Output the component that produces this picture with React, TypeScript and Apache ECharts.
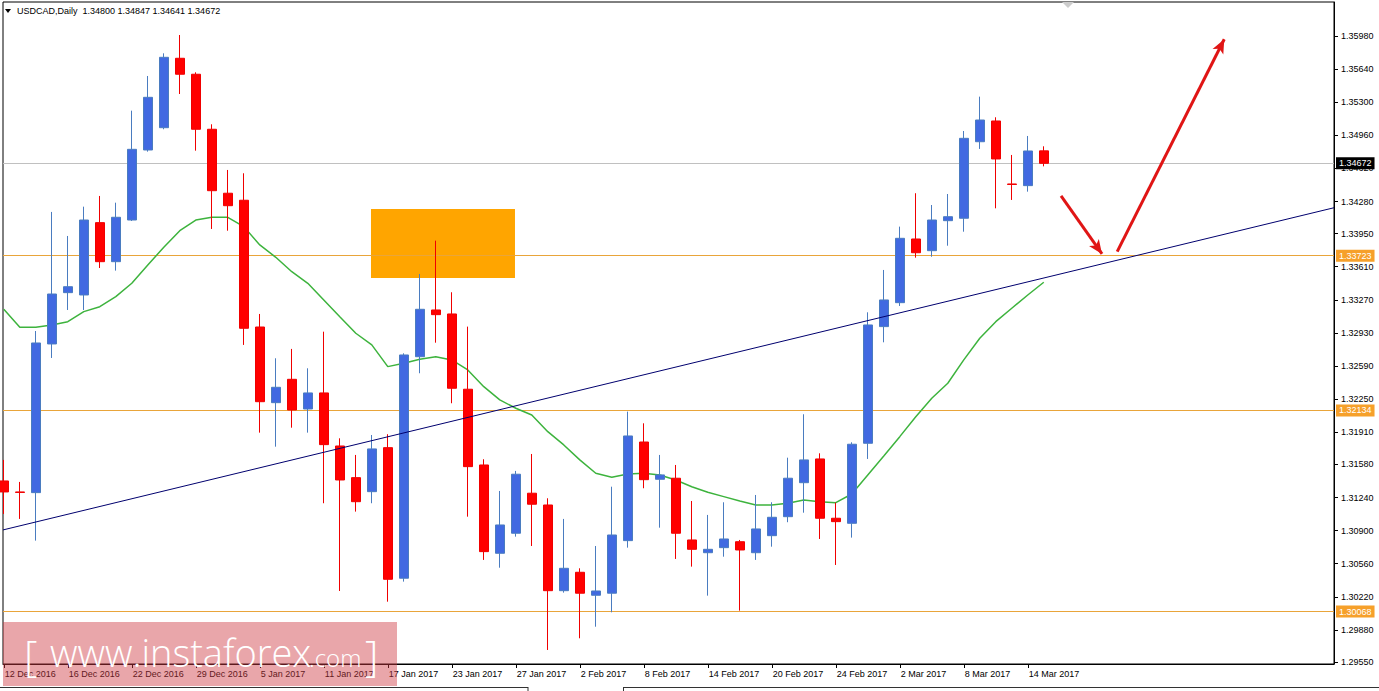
import React, { useEffect, useRef } from 'react';
import * as echarts from 'echarts';

const dates = ["12 Dec 2016","13 Dec 2016","14 Dec 2016","15 Dec 2016","16 Dec 2016","19 Dec 2016","20 Dec 2016","21 Dec 2016","22 Dec 2016","23 Dec 2016","27 Dec 2016","28 Dec 2016","29 Dec 2016","30 Dec 2016","3 Jan 2017","4 Jan 2017","5 Jan 2017","6 Jan 2017","9 Jan 2017","10 Jan 2017","11 Jan 2017","12 Jan 2017","13 Jan 2017","16 Jan 2017","17 Jan 2017","18 Jan 2017","19 Jan 2017","20 Jan 2017","23 Jan 2017","24 Jan 2017","25 Jan 2017","26 Jan 2017","27 Jan 2017","30 Jan 2017","31 Jan 2017","1 Feb 2017","2 Feb 2017","3 Feb 2017","6 Feb 2017","7 Feb 2017","8 Feb 2017","9 Feb 2017","10 Feb 2017","13 Feb 2017","14 Feb 2017","15 Feb 2017","16 Feb 2017","17 Feb 2017","20 Feb 2017","21 Feb 2017","22 Feb 2017","23 Feb 2017","24 Feb 2017","27 Feb 2017","28 Feb 2017","1 Mar 2017","2 Mar 2017","3 Mar 2017","6 Mar 2017","7 Mar 2017","8 Mar 2017","9 Mar 2017","10 Mar 2017","13 Mar 2017","14 Mar 2017","15 Mar 2017"];

const openP = [1.31410,1.31297,1.31290,1.32817,1.33344,1.33320,1.34063,1.33662,1.34090,1.34809,1.35038,1.35751,1.35587,1.35022,1.34365,1.34293,1.32991,1.32214,1.32454,1.32149,1.32314,1.31769,1.31444,1.31300,1.31752,1.30411,1.32686,1.33166,1.33125,1.32352,1.31574,1.30667,1.30873,1.31284,1.31163,1.30283,1.30472,1.30236,1.30257,1.30797,1.31810,1.31427,1.31438,1.30804,1.30673,1.30725,1.30786,1.30673,1.30848,1.31043,1.31392,1.31636,1.31027,1.30975,1.31797,1.32995,1.33241,1.33895,1.33775,1.34083,1.34108,1.34894,1.35107,1.34460,1.34443,1.34800];
const closeP = [1.31297,1.31292,1.32827,1.33330,1.33405,1.34090,1.33662,1.34118,1.34816,1.35350,1.35761,1.35587,1.35022,1.34391,1.34237,1.32978,1.32224,1.32372,1.32139,1.32314,1.31783,1.31420,1.31197,1.31739,1.30400,1.32704,1.33173,1.33118,1.32362,1.31557,1.30684,1.30958,1.31479,1.31171,1.30283,1.30513,1.30257,1.30280,1.30855,1.31872,1.31423,1.31472,1.30873,1.30708,1.30708,1.30814,1.30701,1.30917,1.31037,1.31438,1.31626,1.31027,1.30992,1.31787,1.33012,1.33269,1.33902,1.33754,1.34090,1.34124,1.34929,1.35117,1.34717,1.34455,1.34799,1.34672];
const highP = [1.31626,1.31400,1.32950,1.34173,1.33926,1.34227,1.34337,1.34268,1.35213,1.35569,1.35802,1.35990,1.35607,1.35073,1.34604,1.34570,1.33125,1.32670,1.32766,1.32567,1.32943,1.31848,1.31677,1.31882,1.31890,1.32721,1.33536,1.33878,1.33348,1.32995,1.31633,1.31307,1.31513,1.31687,1.31232,1.31020,1.30513,1.30742,1.31351,1.32122,1.32002,1.31677,1.31574,1.31204,1.31061,1.31191,1.30804,1.31266,1.31191,1.31649,1.32095,1.31694,1.31187,1.31807,1.33142,1.33577,1.34022,1.34365,1.34244,1.34357,1.35004,1.35357,1.35145,1.34758,1.34953,1.34847];
const lowP = [1.31071,1.31020,1.30797,1.32673,1.33166,1.33166,1.33597,1.33570,1.34080,1.34792,1.35022,1.35384,1.34802,1.33998,1.33980,1.32807,1.31906,1.31762,1.31957,1.31906,1.31181,1.30280,1.31095,1.31181,1.30170,1.30376,1.32516,1.32830,1.32208,1.31043,1.30599,1.30519,1.30838,1.30742,1.29674,1.30263,1.29794,1.29913,1.30061,1.30725,1.31335,1.30930,1.30609,1.30530,1.30232,1.30632,1.30078,1.30599,1.30735,1.30986,1.31084,1.30814,1.30547,1.30828,1.31636,1.32834,1.33207,1.33703,1.33713,1.33826,1.33970,1.34820,1.34210,1.34296,1.34381,1.34641];
const maP = [1.33173,1.32988,1.32988,1.33012,1.33046,1.33149,1.33200,1.33303,1.33440,1.33628,1.33810,1.33980,1.34090,1.34118,1.34118,1.34022,1.33834,1.33707,1.33559,1.33440,1.33269,1.33097,1.32927,1.32807,1.32584,1.32619,1.32660,1.32686,1.32653,1.32550,1.32378,1.32242,1.32157,1.32088,1.31916,1.31780,1.31626,1.31489,1.31448,1.31482,1.31489,1.31472,1.31420,1.31351,1.31294,1.31249,1.31204,1.31163,1.31163,1.31181,1.31215,1.31197,1.31187,1.31276,1.31472,1.31667,1.31865,1.32070,1.32259,1.32413,1.32653,1.32875,1.33046,1.33184,1.33320,1.33451];

const priceTicks = [1.35980,1.35640,1.35300,1.34960,1.34620,1.34280,1.33950,1.33610,1.33270,1.32930,1.32590,1.32250,1.31910,1.31580,1.31240,1.30900,1.30560,1.30220,1.29880,1.29550];
const dateTickIdx = [0,4,8,12,16,20,24,28,32,36,40,44,48,52,56,60,64];

const levelPrices = [1.33723, 1.32134, 1.30068];
const lastPrice = 1.34672;
const xExtent = [-0.05, 83.14];
const trendY = [1.30907, 1.34216];
const zoneX = [22.95, 31.95];
const zoneY = [1.33495, 1.34203];
const arrowDown = [[66.08, 1.34337], [68.64, 1.33741]];
const arrowUp = [[69.59, 1.33765], [76.28, 1.35946]];

const FONT = '"Liberation Sans", Arial, sans-serif';
const LEVEL_COLOR = '#E9A53A';
const LAST_COLOR = '#C0C0C0';

function hLine(name: string, value: number, color: string, tagBg: string, z: number) {
  return {
    type: 'line', name, z, silent: true, clip: false, symbol: 'none',
    data: xExtent.map((x) => [x, value]),
    lineStyle: { color, width: 1 },
    endLabel: {
      show: true, distance: 2,
      formatter: () => value.toFixed(5),
      color: '#fff', backgroundColor: tagBg,
      fontSize: 9, fontFamily: FONT, padding: [2, 3, 1, 3],
    },
  };
}

export default function App() {
  const ref = useRef<HTMLDivElement>(null);
  useEffect(() => {
    const chart = echarts.init(ref.current!, null, { renderer: 'svg' });
    const candles = dates.map((_, i) => [i, openP[i], closeP[i], lowP[i], highP[i]]);
    const ma = maP.map((v, i) => [i, v]);
    const option: any = {
      animation: false,
      backgroundColor: '#fff',
      grid: { left: 3, right: 45, top: 2, bottom: 27, show: true, borderColor: '#000', borderWidth: 1, backgroundColor: '#fff' },
      xAxis: {
        type: 'value', min: xExtent[0], max: xExtent[1],
        axisLine: { show: true, onZero: false, lineStyle: { color: '#000', width: 1 } },
        axisTick: { show: true, customValues: dateTickIdx, length: 4, lineStyle: { color: '#000' } },
        axisLabel: {
          customValues: dateTickIdx,
          formatter: (v: number) => dates[Math.round(v)] ?? '',
          align: 'left', color: '#000', fontSize: 9, fontFamily: FONT, margin: 5, padding: [0, 0, 0, 1],
        },
        splitLine: { show: false },
      },
      yAxis: {
        type: 'value', position: 'right', min: 1.2953, max: 1.36329, scale: true,
        axisLine: { show: true, onZero: false, lineStyle: { color: '#000', width: 1 } },
        axisTick: { show: true, customValues: priceTicks, length: 4, lineStyle: { color: '#000' } },
        axisLabel: {
          customValues: priceTicks,
          formatter: (v: number) => v.toFixed(5),
          color: '#000', fontSize: 9, fontFamily: FONT, margin: 7,
        },
        splitLine: { show: false },
      },
      series: [
        ...levelPrices.map((v, i) => hLine('level' + i, v, LEVEL_COLOR, '#F6A02A', 1)),
        hLine('last', lastPrice, LAST_COLOR, '#000', 1),
        {
          type: 'line', name: 'zone', data: [], z: 2, silent: true,
          markArea: {
            silent: true,
            itemStyle: { color: '#FFA500', opacity: 1 },
            data: [[{ coord: [zoneX[0], zoneY[1]] }, { coord: [zoneX[1], zoneY[0]] }]],
          },
        },
        {
          type: 'line', name: 'MA', data: ma, z: 3, symbol: 'none', silent: true,
          lineStyle: { color: '#3DB33D', width: 1.5 },
        },
        {
          type: 'candlestick', name: 'USDCAD', data: candles, z: 4, barWidth: 10,
          itemStyle: { color: '#4169E1', color0: '#FF0000', borderColor: '#4A7CC0', borderColor0: '#F00000', borderWidth: 1 },
        },
        {
          type: 'line', name: 'trend', data: xExtent.map((x, i) => [x, trendY[i]]), z: 5, symbol: 'none', silent: true,
          lineStyle: { color: '#00006E', width: 1 },
        },
        {
          type: 'line', name: 'arrows', data: [], z: 6, silent: true,
          markLine: {
            silent: true, symbol: ['none', 'arrow'], symbolSize: [9, 14], precision: 5,
            label: { show: false },
            lineStyle: { color: '#E01515', width: 3, type: 'solid' },
            data: [
              [{ coord: arrowDown[0] }, { coord: arrowDown[1] }],
              [{ coord: arrowUp[0] }, { coord: arrowUp[1] }],
            ],
          },
        },
      ],
      graphic: [
        { type: 'polygon', shape: { points: [[5, 9], [11, 9], [8, 13]] }, style: { fill: '#000' }, z: 10 },
        { type: 'text', x: 17, y: 11, style: { text: 'USDCAD,Daily  1.34800 1.34847 1.34641 1.34672', fill: '#000', font: '9px ' + FONT, verticalAlign: 'middle' }, z: 10 },
        { type: 'polygon', shape: { points: [[1062, 2], [1074, 2], [1068, 8]] }, style: { fill: '#CCCCCC' }, z: 10 },
        { type: 'rect', shape: { x: 3, y: 622, width: 394, height: 64 }, style: { fill: 'rgba(206,57,66,0.45)' }, z: 20 },
        { type: 'text', x: 24, y: 654, style: { text: '[', fill: '#fff', font: '300 42px "Open Sans", "Noto Sans", sans-serif', verticalAlign: 'middle' }, z: 21 },
        { type: 'text', x: 50, y: 652, style: { text: 'www.instaforex', fill: '#fff', font: '300 38px "Open Sans", "Noto Sans", sans-serif', verticalAlign: 'middle' }, z: 21 },
        { type: 'text', x: 309, y: 657, style: { text: '.com', fill: '#fff', font: '300 24px "Open Sans", "Noto Sans", sans-serif', verticalAlign: 'middle' }, z: 21 },
        { type: 'text', x: 365, y: 654, style: { text: ']', fill: '#fff', font: '300 42px "Open Sans", "Noto Sans", sans-serif', verticalAlign: 'middle' }, z: 21 },
        { type: 'line', shape: { x1: 0, y1: 687.5, x2: 528, y2: 687.5 }, style: { stroke: '#333', lineWidth: 1 }, z: 22 },
        { type: 'line', shape: { x1: 528, y1: 687, x2: 528, y2: 691 }, style: { stroke: '#333', lineWidth: 1 }, z: 22 },
        { type: 'line', shape: { x1: 623.5, y1: 687, x2: 623.5, y2: 691 }, style: { stroke: '#333', lineWidth: 1 }, z: 22 },
        { type: 'line', shape: { x1: 623, y1: 687.5, x2: 1379, y2: 687.5 }, style: { stroke: '#333', lineWidth: 1 }, z: 22 },
      ],
    };
    chart.setOption(option);
    return () => chart.dispose();
  }, []);
  const css = `#chart svg path[stroke="${LEVEL_COLOR}" i], #chart svg path[stroke="${LAST_COLOR}" i] { shape-rendering: crispEdges; }`;
  return (
    <>
      <style>{css}</style>
      <div id="chart" ref={ref} style={{ position: 'fixed', left: 0, top: 0, width: 1379, height: 691, background: '#fff' }} />
    </>
  );
}
